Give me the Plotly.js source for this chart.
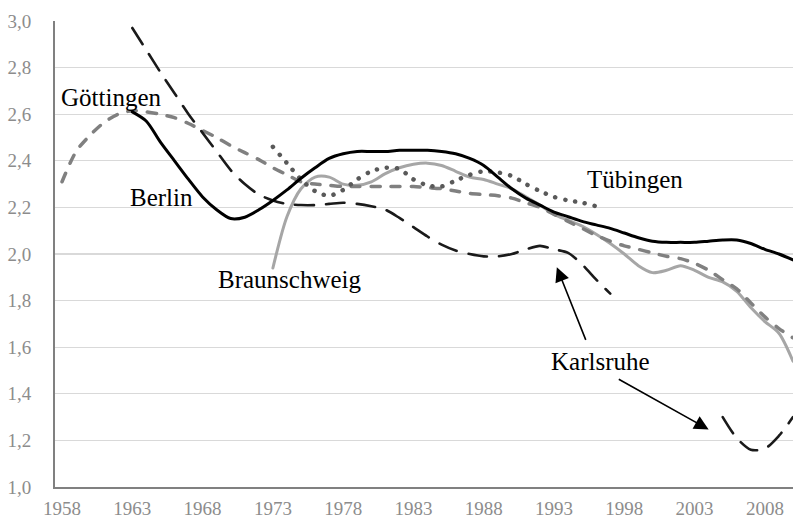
<!DOCTYPE html>
<html>
<head>
<meta charset="utf-8">
<script src="https://cdn.plot.ly/plotly-3.0.1.min.js"></script>
<style>
html, body { margin: 0; padding: 0; background: #fff; }
#chart { width: 793px; height: 521px; }
.scatterlayer path.js-line { stroke-linecap: round; stroke-linejoin: round; }
</style>
</head>
<body>
<div id="chart"></div>
<script>
// ---- data ----
var xTickYears = [1958, 1963, 1968, 1973, 1978, 1983, 1988, 1993, 1998, 2003, 2008];
var yTickValues = [1.0, 1.2, 1.4, 1.6, 1.8, 2.0, 2.2, 2.4, 2.6, 2.8, 3.0];

var goettingenYears = [1958,1959,1960,1961,1962,1963,1964,1965,1966,1967,1968,1969,1970,1971,1972,1973,1974,1975,1976,1977,1978,1979,1980,1981,1982,1983,1984,1985,1986,1987,1988,1989,1990,1991,1992,1993,1994,1995,1996,1997,1998,1999,2000,2001,2002,2003,2004,2005,2006,2007,2008,2009,2010];
var goettingen = [2.31,2.44,2.51,2.565,2.60,2.615,2.61,2.60,2.585,2.56,2.53,2.50,2.465,2.435,2.405,2.37,2.34,2.31,2.30,2.295,2.29,2.29,2.29,2.29,2.29,2.29,2.285,2.28,2.27,2.26,2.255,2.25,2.24,2.22,2.20,2.17,2.14,2.11,2.08,2.055,2.035,2.02,2.005,1.99,1.98,1.96,1.93,1.89,1.85,1.79,1.73,1.68,1.64];

var berlinYears = [1963,1964,1965,1966,1967,1968,1969,1970,1971,1972,1973,1974,1975,1976,1977,1978,1979,1980,1981,1982,1983,1984,1985,1986,1987,1988,1989,1990,1991,1992,1993,1994,1995,1996,1997,1998,1999,2000,2001,2002,2003,2004,2005,2006,2007,2008,2009,2010];
var berlin = [2.61,2.57,2.48,2.40,2.32,2.245,2.19,2.152,2.158,2.19,2.23,2.275,2.325,2.37,2.41,2.43,2.44,2.44,2.44,2.445,2.445,2.445,2.44,2.43,2.41,2.38,2.33,2.28,2.24,2.21,2.18,2.16,2.14,2.125,2.11,2.09,2.07,2.055,2.05,2.05,2.05,2.055,2.06,2.06,2.045,2.02,2.00,1.975];

var karlsruheYears = [1963,1964,1965,1966,1967,1968,1969,1970,1971,1972,1973,1974,1975,1976,1977,1978,1979,1980,1981,1982,1983,1984,1985,1986,1987,1988,1989,1990,1991,1992,1993,1994,1995,1996,1997,1998,1999,2000,2001,2002,2003,2004,2005,2006,2007,2008,2009,2010];
var karlsruhe = [2.97,2.875,2.78,2.69,2.60,2.52,2.44,2.36,2.30,2.255,2.23,2.215,2.21,2.21,2.215,2.22,2.215,2.205,2.19,2.155,2.115,2.075,2.04,2.015,2.00,1.99,1.99,2.00,2.02,2.035,2.02,2.005,1.955,1.89,1.83,null,null,null,null,null,null,null,1.30,1.21,1.16,1.165,1.22,1.30];

var tuebingenYears = [1973,1974,1975,1976,1977,1978,1979,1980,1981,1982,1983,1984,1985,1986,1987,1988,1989,1990,1991,1992,1993,1994,1995,1996];
var tuebingen = [2.46,2.39,2.32,2.27,2.25,2.275,2.32,2.355,2.37,2.365,2.32,2.295,2.29,2.315,2.34,2.355,2.35,2.335,2.30,2.27,2.245,2.23,2.22,2.205];

var braunschweigYears = [1973,1974,1975,1976,1977,1978,1979,1980,1981,1982,1983,1984,1985,1986,1987,1988,1989,1990,1991,1992,1993,1994,1995,1996,1997,1998,1999,2000,2001,2002,2003,2004,2005,2006,2007,2008,2009,2010];
var braunschweig = [1.94,2.16,2.28,2.33,2.33,2.30,2.295,2.31,2.345,2.37,2.385,2.39,2.38,2.355,2.33,2.32,2.30,2.28,2.245,2.21,2.17,2.145,2.12,2.085,2.045,2.00,1.95,1.92,1.93,1.95,1.93,1.90,1.88,1.84,1.77,1.71,1.66,1.54];

// ---- chart ----
var serif = 'Liberation Serif, Times New Roman, serif';

var traces = [
  { name: 'Braunschweig', x: braunschweigYears, y: braunschweig, type: 'scatter', mode: 'lines',
    line: { color: '#a6a6a6', width: 3, shape: 'spline', smoothing: 0.8 } },
  { name: 'Göttingen', x: goettingenYears, y: goettingen, type: 'scatter', mode: 'lines',
    line: { color: '#808080', width: 3.5, dash: '9px,11px', shape: 'spline', smoothing: 0.8 } },
  { name: 'Tübingen', x: tuebingenYears, y: tuebingen, type: 'scatter', mode: 'lines',
    line: { color: '#595959', width: 4.5, dash: '0.1px,10px', shape: 'spline', smoothing: 0.8 } },
  { name: 'Karlsruhe', x: karlsruheYears, y: karlsruhe, type: 'scatter', mode: 'lines', connectgaps: false,
    line: { color: '#1a1a1a', width: 2.6, dash: '19px,12px', shape: 'spline', smoothing: 0.8 } },
  { name: 'Berlin', x: berlinYears, y: berlin, type: 'scatter', mode: 'lines',
    line: { color: '#000000', width: 3, shape: 'spline', smoothing: 0.8 } }
];

function label(text, x, y) {
  return { text: text, x: x, y: y, xref: 'x', yref: 'y', showarrow: false,
           font: { family: serif, size: 25, color: '#000' }, xanchor: 'center', yanchor: 'middle' };
}
function arrow(x, y, ax, ay) {
  return { text: '', x: x, y: y, ax: ax, ay: ay, xref: 'x', yref: 'y', axref: 'x', ayref: 'y',
           showarrow: true, arrowhead: 2, arrowsize: 1.8, arrowwidth: 1.6, arrowcolor: '#000',
           standoff: 0, startstandoff: 0 };
}

var layout = {
  width: 793, height: 521,
  margin: { l: 55, r: 0, t: 21, b: 34, pad: 0 },
  paper_bgcolor: '#fff', plot_bgcolor: '#fff',
  showlegend: false,
  separators: ', ',
  font: { family: serif, color: '#8c8c8c', size: 19 },
  xaxis: {
    range: [1957.5, 2010.0],
    tickmode: 'array', tickvals: xTickYears, ticktext: xTickYears.map(String),
    showgrid: false, zeroline: false,
    showline: true, linecolor: '#808080', linewidth: 2,
    ticks: '', ticklabelstandoff: 3,
    tickfont: { family: serif, size: 19, color: '#8c8c8c' }
  },
  yaxis: {
    range: [1.0, 3.0],
    tickmode: 'array', tickvals: yTickValues, tickformat: '.1f',
    showgrid: true, gridcolor: '#d9d9d9', gridwidth: 1.2,
    zeroline: false,
    showline: true, linecolor: '#808080', linewidth: 2,
    ticks: '', ticklabelstandoff: 18,
    tickfont: { family: serif, size: 19, color: '#8c8c8c' }
  },
  annotations: [
    label('Göttingen', 1961.5, 2.672),
    label('Berlin', 1965.1, 2.243),
    label('Braunschweig', 1974.2, 1.891),
    label('Tübingen', 1998.75, 2.321),
    label('Karlsruhe', 1996.3, 1.539),
    arrow(1993.2, 1.943, 1995.3, 1.625),
    arrow(2004.0, 1.247, 1997.5, 1.466)
  ]
};

Plotly.newPlot('chart', traces, layout, { staticPlot: true, displayModeBar: false });
</script>
</body>
</html>
